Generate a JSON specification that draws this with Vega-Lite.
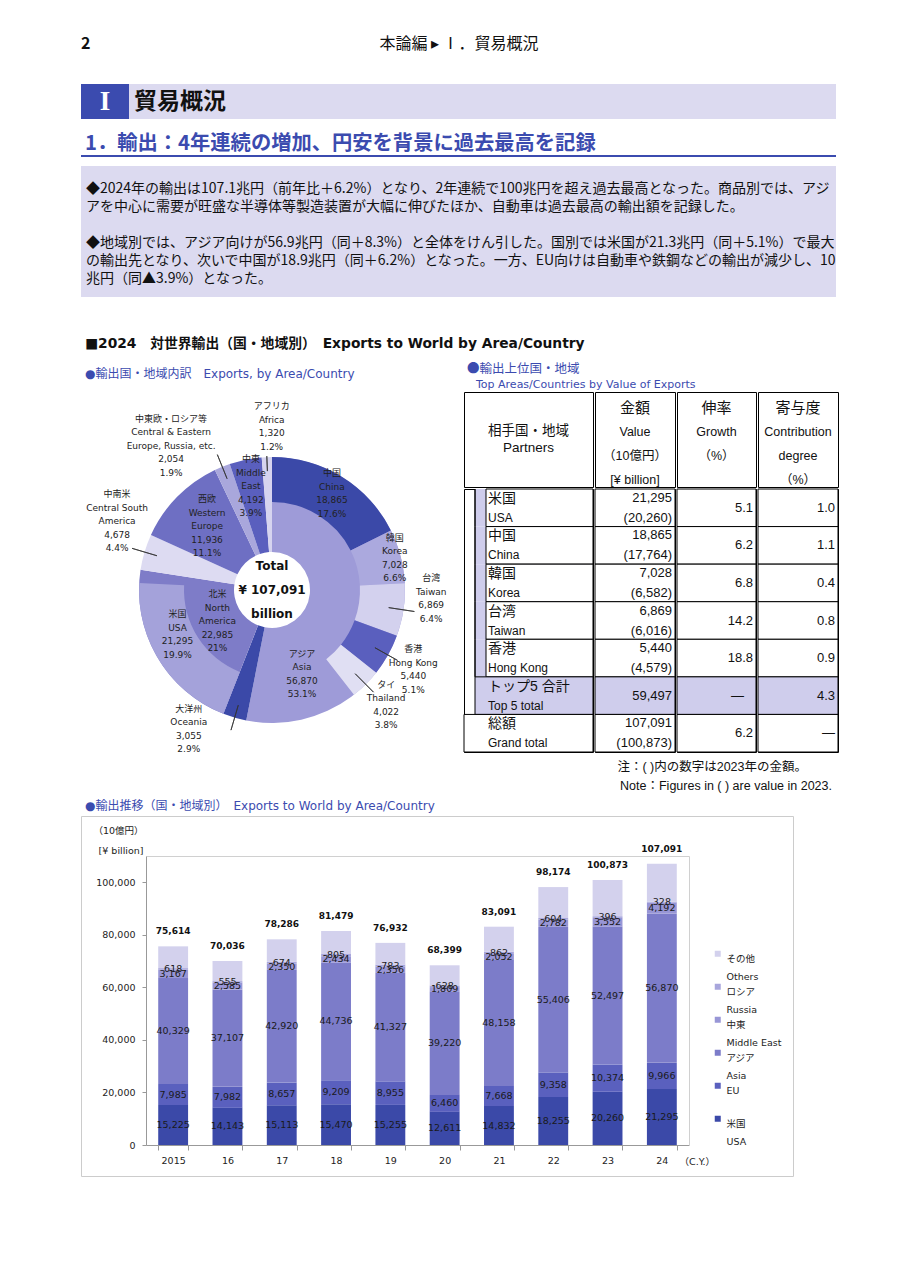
{
"$schema": "https://vega.github.io/schema/vega-lite/v6.json",
"background": "white",
"padding": 0,
"spacing": 0,
"config": {
  "view": {"stroke": null},
  "style": {"guide-label": {"lineHeight": 18}}
},
"datasets": {
  "regions": [
    {"k": "Asia", "ja": "アジア", "en": "Asia", "v": 56870, "p": "53.1%", "o": 1},
    {"k": "Oceania", "ja": "大洋州", "en": "Oceania", "v": 3055, "p": "2.9%", "o": 2},
    {"k": "NA", "ja": "北米", "en": "North|America", "v": 22985, "p": "21%", "o": 3},
    {"k": "CSA", "ja": "中南米", "en": "Central South|America", "v": 4678, "p": "4.4%", "o": 4},
    {"k": "WE", "ja": "西欧", "en": "Western|Europe", "v": 11936, "p": "11.1%", "o": 5},
    {"k": "CEE", "ja": "中東欧・ロシア等", "en": "Central & Eastern|Europe, Russia, etc.", "v": 2054, "p": "1.9%", "o": 6},
    {"k": "ME", "ja": "中東", "en": "Middle|East", "v": 4192, "p": "3.9%", "o": 7},
    {"k": "Africa", "ja": "アフリカ", "en": "Africa", "v": 1320, "p": "1.2%", "o": 8}
  ],
  "outer": [
    {"k": "China", "region": "Asia", "ja": "中国", "en": "China", "v": 18865, "p": "17.6%", "o": 1},
    {"k": "Korea", "region": "Asia", "ja": "韓国", "en": "Korea", "v": 7028, "p": "6.6%", "o": 2},
    {"k": "Taiwan", "region": "Asia", "ja": "台湾", "en": "Taiwan", "v": 6869, "p": "6.4%", "o": 3},
    {"k": "HongKong", "region": "Asia", "ja": "香港", "en": "Hong Kong", "v": 5440, "p": "5.1%", "o": 4},
    {"k": "Thailand", "region": "Asia", "ja": "タイ", "en": "Thailand", "v": 4022, "p": "3.8%", "o": 5},
    {"k": "OtherAsia", "region": "Asia", "v": 14646, "o": 6},
    {"k": "Oceania", "region": "Oceania", "v": 3055, "o": 7},
    {"k": "USA", "region": "NA", "ja": "米国", "en": "USA", "v": 21295, "p": "19.9%", "o": 8},
    {"k": "OtherNA", "region": "NA", "v": 1690, "o": 9},
    {"k": "CSA", "region": "CSA", "v": 4678, "o": 10},
    {"k": "WE", "region": "WE", "v": 11936, "o": 11},
    {"k": "CEE", "region": "CEE", "v": 2054, "o": 12},
    {"k": "ME", "region": "ME", "v": 4192, "o": 13},
    {"k": "Africa", "region": "Africa", "v": 1320, "o": 14}
  ],
  "tbl": [
    {"k": "USA", "ja": "米国", "en": "USA", "lv": 2, "v": 21295, "pv": 20260, "g": 5.1, "c": 1.0},
    {"k": "China", "ja": "中国", "en": "China", "lv": 2, "v": 18865, "pv": 17764, "g": 6.2, "c": 1.1},
    {"k": "Korea", "ja": "韓国", "en": "Korea", "lv": 2, "v": 7028, "pv": 6582, "g": 6.8, "c": 0.4},
    {"k": "Taiwan", "ja": "台湾", "en": "Taiwan", "lv": 2, "v": 6869, "pv": 6016, "g": 14.2, "c": 0.8},
    {"k": "HongKong", "ja": "香港", "en": "Hong Kong", "lv": 2, "v": 5440, "pv": 4579, "g": 18.8, "c": 0.9},
    {"k": "Top5", "ja": "トップ5 合計", "en": "Top 5 total", "lv": 1, "v": 59497, "pv": null, "g": null, "c": 4.3},
    {"k": "Grand", "ja": "総額", "en": "Grand total", "lv": 0, "v": 107091, "pv": 100873, "g": 6.2, "c": null}
  ],
  "bars": [
    {"yr": "2015", "area": "USA", "o": 1, "v": 15225}, {"yr": "2015", "area": "EU", "o": 2, "v": 7985}, {"yr": "2015", "area": "Asia", "o": 3, "v": 40329}, {"yr": "2015", "area": "Middle East", "o": 4, "v": 3167}, {"yr": "2015", "area": "Russia", "o": 5, "v": 618}, {"yr": "2015", "area": "Others", "o": 6, "v": 8290},
    {"yr": "16", "area": "USA", "o": 1, "v": 14143}, {"yr": "16", "area": "EU", "o": 2, "v": 7982}, {"yr": "16", "area": "Asia", "o": 3, "v": 37107}, {"yr": "16", "area": "Middle East", "o": 4, "v": 2585}, {"yr": "16", "area": "Russia", "o": 5, "v": 555}, {"yr": "16", "area": "Others", "o": 6, "v": 7664},
    {"yr": "17", "area": "USA", "o": 1, "v": 15113}, {"yr": "17", "area": "EU", "o": 2, "v": 8657}, {"yr": "17", "area": "Asia", "o": 3, "v": 42920}, {"yr": "17", "area": "Middle East", "o": 4, "v": 2350}, {"yr": "17", "area": "Russia", "o": 5, "v": 674}, {"yr": "17", "area": "Others", "o": 6, "v": 8572},
    {"yr": "18", "area": "USA", "o": 1, "v": 15470}, {"yr": "18", "area": "EU", "o": 2, "v": 9209}, {"yr": "18", "area": "Asia", "o": 3, "v": 44736}, {"yr": "18", "area": "Middle East", "o": 4, "v": 2434}, {"yr": "18", "area": "Russia", "o": 5, "v": 805}, {"yr": "18", "area": "Others", "o": 6, "v": 8825},
    {"yr": "19", "area": "USA", "o": 1, "v": 15255}, {"yr": "19", "area": "EU", "o": 2, "v": 8955}, {"yr": "19", "area": "Asia", "o": 3, "v": 41327}, {"yr": "19", "area": "Middle East", "o": 4, "v": 2356}, {"yr": "19", "area": "Russia", "o": 5, "v": 783}, {"yr": "19", "area": "Others", "o": 6, "v": 8256},
    {"yr": "20", "area": "USA", "o": 1, "v": 12611}, {"yr": "20", "area": "EU", "o": 2, "v": 6460}, {"yr": "20", "area": "Asia", "o": 3, "v": 39220}, {"yr": "20", "area": "Middle East", "o": 4, "v": 1809}, {"yr": "20", "area": "Russia", "o": 5, "v": 628}, {"yr": "20", "area": "Others", "o": 6, "v": 7671},
    {"yr": "21", "area": "USA", "o": 1, "v": 14832}, {"yr": "21", "area": "EU", "o": 2, "v": 7668}, {"yr": "21", "area": "Asia", "o": 3, "v": 48158}, {"yr": "21", "area": "Middle East", "o": 4, "v": 2052}, {"yr": "21", "area": "Russia", "o": 5, "v": 862}, {"yr": "21", "area": "Others", "o": 6, "v": 9519},
    {"yr": "22", "area": "USA", "o": 1, "v": 18255}, {"yr": "22", "area": "EU", "o": 2, "v": 9358}, {"yr": "22", "area": "Asia", "o": 3, "v": 55406}, {"yr": "22", "area": "Middle East", "o": 4, "v": 2782}, {"yr": "22", "area": "Russia", "o": 5, "v": 604}, {"yr": "22", "area": "Others", "o": 6, "v": 11769},
    {"yr": "23", "area": "USA", "o": 1, "v": 20260}, {"yr": "23", "area": "EU", "o": 2, "v": 10374}, {"yr": "23", "area": "Asia", "o": 3, "v": 52497}, {"yr": "23", "area": "Middle East", "o": 4, "v": 3552}, {"yr": "23", "area": "Russia", "o": 5, "v": 396}, {"yr": "23", "area": "Others", "o": 6, "v": 13794},
    {"yr": "24", "area": "USA", "o": 1, "v": 21295}, {"yr": "24", "area": "EU", "o": 2, "v": 9966}, {"yr": "24", "area": "Asia", "o": 3, "v": 56870}, {"yr": "24", "area": "Middle East", "o": 4, "v": 4192}, {"yr": "24", "area": "Russia", "o": 5, "v": 328}, {"yr": "24", "area": "Others", "o": 6, "v": 14440}
  ],
  "totals": [
    {"yr": "2015", "total": 75614}, {"yr": "16", "total": 70036}, {"yr": "17", "total": 78286}, {"yr": "18", "total": 81479}, {"yr": "19", "total": 76932},
    {"yr": "20", "total": 68399}, {"yr": "21", "total": 83091}, {"yr": "22", "total": 98174}, {"yr": "23", "total": 100873}, {"yr": "24", "total": 107091}
  ]
},
"hconcat": [
  {"width": 80, "height": 10, "data": {"values": []}, "mark": {"type": "point"}},
  {"spacing": 0, "vconcat": [
    {"width": 755, "height": 84, "layer": [
      {"data": {"values": [{"t": "2"}]}, "mark": {"type": "text", "x": 0, "y": 44, "align": "left", "baseline": "middle", "fontSize": 16, "fontWeight": "bold", "font": "Noto Sans CJK JP", "color": "#111"}, "encoding": {"text": {"field": "t"}}},
      {"data": {"values": [{"t": "本論編 ▸ Ⅰ．貿易概況"}]}, "mark": {"type": "text", "x": 378, "y": 44, "align": "center", "baseline": "middle", "fontSize": 16, "font": "Noto Sans CJK JP", "color": "#111"}, "encoding": {"text": {"field": "t"}}}
    ]},
    {"spacing": 0, "hconcat": [
      {"width": 48, "height": 35, "view": {"fill": "#3B4BAF", "stroke": null}, "data": {"values": [{"t": "I"}]}, "mark": {"type": "text", "baseline": "middle", "fontSize": 27, "fontWeight": "bold", "font": "Liberation Serif, DejaVu Serif", "color": "white"}, "encoding": {"text": {"field": "t"}}},
      {"width": 707, "height": 35, "view": {"fill": "#DCDAF0", "stroke": null}, "data": {"values": [{"t": "貿易概況"}]}, "mark": {"type": "text", "x": 5, "align": "left", "baseline": "middle", "fontSize": 23, "fontWeight": "bold", "font": "Noto Sans CJK JP", "color": "#111"}, "encoding": {"text": {"field": "t"}}}
    ]},
    {"width": 755, "height": 35, "data": {"values": [{"t": "1．輸出：4年連続の増加、円安を背景に過去最高を記録"}]}, "mark": {"type": "text", "x": 4, "y": 25, "align": "left", "baseline": "middle", "fontSize": 20.3, "fontWeight": "bold", "font": "Noto Sans CJK JP", "color": "#3B4BAF"}, "encoding": {"text": {"field": "t"}}},
    {"width": 755, "height": 2, "view": {"fill": "#3B4BAF", "stroke": null}, "data": {"values": []}, "mark": {"type": "point"}},
    {"width": 755, "height": 9, "data": {"values": []}, "mark": {"type": "point"}},
    {"width": 755, "height": 131, "view": {"fill": "#DCDAF0", "stroke": null}, "layer": [
      {"data": {"values": [{"t": [
        "◆2024年の輸出は107.1兆円（前年比＋6.2%）となり、2年連続で100兆円を超え過去最高となった。商品別では、アジ",
        "アを中心に需要が旺盛な半導体等製造装置が大幅に伸びたほか、自動車は過去最高の輸出額を記録した。"]}]},
       "mark": {"type": "text", "x": 5, "y": 16, "align": "left", "baseline": "top", "lineHeight": 18, "fontSize": 14, "font": "Noto Sans CJK JP", "color": "#111"}, "encoding": {"text": {"field": "t"}}},
      {"data": {"values": [{"t": [
        "◆地域別では、アジア向けが56.9兆円（同＋8.3%）と全体をけん引した。国別では米国が21.3兆円（同＋5.1%）で最大",
        "の輸出先となり、次いで中国が18.9兆円（同＋6.2%）となった。一方、EU向けは自動車や鉄鋼などの輸出が減少し、10",
        "兆円（同▲3.9%）となった。"]}]},
       "mark": {"type": "text", "x": 5, "y": 70, "align": "left", "baseline": "top", "lineHeight": 18, "fontSize": 14, "font": "Noto Sans CJK JP", "color": "#111"}, "encoding": {"text": {"field": "t"}}}
    ]},
    {"width": 755, "height": 64, "data": {"values": [{"t": "■2024　対世界輸出（国・地域別）　Exports to World by Area/Country"}]}, "mark": {"type": "text", "x": 4, "y": 47, "align": "left", "baseline": "middle", "fontSize": 13.8, "fontWeight": "bold", "font": "DejaVu Sans, Noto Sans CJK JP", "color": "#111"}, "encoding": {"text": {"field": "t"}}},
    {"spacing": 0, "hconcat": [
      {"spacing": 0, "vconcat": [
        {"width": 381, "height": 20, "data": {"values": [{"t": "●輸出国・地域内訳　Exports, by Area/Country"}]}, "mark": {"type": "text", "x": 4, "y": 13, "align": "left", "baseline": "middle", "fontSize": 12, "font": "DejaVu Sans, Noto Sans CJK JP", "color": "#3B4BAF"}, "encoding": {"text": {"field": "t"}}},
        {"width": 382, "height": 418,
         "resolve": {"scale": {"color": "independent"}},
         "layer": [
          {"data": {"name": "regions"},
           "transform": [
             {"stack": "v", "groupby": [], "sort": [{"field": "o", "order": "ascending"}], "as": ["t0", "t1"]},
             {"calculate": "(datum.t0 + datum.t1) / 2", "as": "tm"},
             {"calculate": "split(datum.ja + '|' + datum.en + '|' + format(datum.v, ',') + '|' + datum.p, '|')", "as": "lab"}
           ],
           "layer": [
             {"mark": {"type": "arc", "outerRadius": 133, "innerRadius": 38}, "encoding": {
               "theta": {"field": "v", "type": "quantitative", "stack": true, "scale": {"domain": [0, 107090]}},
               "order": {"field": "o", "type": "quantitative"},
               "color": {"field": "k", "type": "nominal", "legend": null, "scale": {"domain": ["Asia", "Oceania", "NA", "CSA", "WE", "CEE", "ME", "Africa"], "range": ["#9E9BD8", "#3B49A8", "#7E7CC8", "#DDDBF2", "#6E6FC3", "#A9A7DC", "#5A5FBE", "#D6D4EF"]}}}},
             {"transform": [{"filter": {"field": "k", "oneOf": ["CSA", "CEE", "Oceania"]}}], "mark": {"type": "arc", "innerRadius": 120, "outerRadius": 146, "fill": "transparent", "stroke": "#333", "strokeWidth": 0.8}, "encoding": {
               "theta": {"field": "tm", "type": "quantitative", "stack": false, "scale": {"domain": [0, 107090]}}, "theta2": {"field": "tm"}}},
             {"transform": [{"filter": "datum.k == 'Africa'"}], "mark": {"type": "arc", "innerRadius": 119, "outerRadius": 134, "fill": "transparent", "stroke": "#333", "strokeWidth": 0.8}, "encoding": {
               "theta": {"field": "tm", "type": "quantitative", "stack": false, "scale": {"domain": [0, 107090]}}, "theta2": {"field": "tm"}}},
             {"transform": [{"filter": "datum.k == 'NA'"}], "mark": {"type": "text", "radius": 63, "dy": -27, "font": "DejaVu Sans, Noto Sans CJK JP", "fontSize": 9, "lineHeight": 13.5, "baseline": "middle", "align": "center", "color": "#222"}, "encoding": {"theta": {"field": "tm", "type": "quantitative", "stack": false, "scale": {"domain": [0, 107090]}}, "text": {"field": "lab"}}},
             {"transform": [{"filter": "datum.k == 'WE'"}], "mark": {"type": "text", "radius": 91, "dy": -27, "font": "DejaVu Sans, Noto Sans CJK JP", "fontSize": 9, "lineHeight": 13.5, "baseline": "middle", "align": "center", "color": "#222"}, "encoding": {"theta": {"field": "tm", "type": "quantitative", "stack": false, "scale": {"domain": [0, 107090]}}, "text": {"field": "lab"}}},
             {"transform": [{"filter": "datum.k == 'ME'"}], "mark": {"type": "text", "radius": 106, "dy": -27, "font": "DejaVu Sans, Noto Sans CJK JP", "fontSize": 9, "lineHeight": 13.5, "baseline": "middle", "align": "center", "color": "#222"}, "encoding": {"theta": {"field": "tm", "type": "quantitative", "stack": false, "scale": {"domain": [0, 107090]}}, "text": {"field": "lab"}}},
             {"transform": [{"filter": "datum.k == 'CSA'"}], "mark": {"type": "text", "radius": 170, "dx": 8, "dy": -47, "font": "DejaVu Sans, Noto Sans CJK JP", "fontSize": 9, "lineHeight": 13.5, "baseline": "middle", "align": "center", "color": "#222"}, "encoding": {"theta": {"field": "tm", "type": "quantitative", "stack": false, "scale": {"domain": [0, 107090]}}, "text": {"field": "lab"}}},
             {"transform": [{"filter": "datum.k == 'CEE'"}], "mark": {"type": "text", "radius": 176, "dx": -35, "dy": -8, "font": "DejaVu Sans, Noto Sans CJK JP", "fontSize": 9, "lineHeight": 13.5, "baseline": "middle", "align": "center", "color": "#222"}, "encoding": {"theta": {"field": "tm", "type": "quantitative", "stack": false, "scale": {"domain": [0, 107090]}}, "text": {"field": "lab"}}},
             {"transform": [{"filter": "datum.k == 'Oceania'"}], "mark": {"type": "text", "radius": 161, "dx": -38, "dy": -36, "font": "DejaVu Sans, Noto Sans CJK JP", "fontSize": 9, "lineHeight": 13.5, "baseline": "middle", "align": "center", "color": "#222"}, "encoding": {"theta": {"field": "tm", "type": "quantitative", "stack": false, "scale": {"domain": [0, 107090]}}, "text": {"field": "lab"}}},
             {"transform": [{"filter": "datum.k == 'Africa'"}], "mark": {"type": "text", "radius": 162, "dx": 6, "dy": -22, "font": "DejaVu Sans, Noto Sans CJK JP", "fontSize": 9, "lineHeight": 13.5, "baseline": "middle", "align": "center", "color": "#222"}, "encoding": {"theta": {"field": "tm", "type": "quantitative", "stack": false, "scale": {"domain": [0, 107090]}}, "text": {"field": "lab"}}}
           ]},
          {"data": {"name": "outer"},
           "transform": [
             {"stack": "v", "groupby": [], "sort": [{"field": "o", "order": "ascending"}], "as": ["t0", "t1"]},
             {"calculate": "(datum.t0 + datum.t1) / 2", "as": "tm"},
             {"calculate": "split(datum.ja + '|' + datum.en + '|' + format(datum.v, ',') + '|' + datum.p, '|')", "as": "lab"}
           ],
           "layer": [
             {"mark": {"type": "arc", "outerRadius": 133, "innerRadius": 88}, "encoding": {
               "theta": {"field": "v", "type": "quantitative", "stack": true, "scale": {"domain": [0, 107090]}},
               "order": {"field": "o", "type": "quantitative"},
               "color": {"field": "k", "type": "nominal", "legend": null, "scale": {"domain": ["China", "Korea", "Taiwan", "HongKong", "Thailand", "USA", "OtherAsia", "Oceania", "OtherNA", "CSA", "WE", "CEE", "ME", "Africa"], "range": ["#3B49A8", "#ABA9DE", "#D3D1EE", "#5A5FBE", "#E0DFF3", "#A4A2DA", "transparent", "transparent", "transparent", "transparent", "transparent", "transparent", "transparent", "transparent"]}}}},
             {"transform": [{"filter": {"field": "k", "oneOf": ["Taiwan", "HongKong", "Thailand"]}}], "mark": {"type": "arc", "innerRadius": 118, "outerRadius": 144, "fill": "transparent", "stroke": "#333", "strokeWidth": 0.8}, "encoding": {
               "theta": {"field": "tm", "type": "quantitative", "stack": false, "scale": {"domain": [0, 107090]}}, "theta2": {"field": "tm"}}},
             {"transform": [{"filter": "datum.k == 'China'"}], "mark": {"type": "text", "radius": 114, "dy": -20, "font": "DejaVu Sans, Noto Sans CJK JP", "fontSize": 9, "lineHeight": 13.5, "baseline": "middle", "align": "center", "color": "#222"}, "encoding": {"theta": {"field": "tm", "type": "quantitative", "stack": false, "scale": {"domain": [0, 107090]}}, "text": {"field": "lab"}}},
             {"transform": [{"filter": "datum.k == 'Korea'"}], "mark": {"type": "text", "radius": 127, "dy": -20, "font": "DejaVu Sans, Noto Sans CJK JP", "fontSize": 9, "lineHeight": 13.5, "baseline": "middle", "align": "center", "color": "#222"}, "encoding": {"theta": {"field": "tm", "type": "quantitative", "stack": false, "scale": {"domain": [0, 107090]}}, "text": {"field": "lab"}}},
             {"transform": [{"filter": "datum.k == 'USA'"}], "mark": {"type": "text", "radius": 104, "dx": -7, "dy": -32, "font": "DejaVu Sans, Noto Sans CJK JP", "fontSize": 9, "lineHeight": 13.5, "baseline": "middle", "align": "center", "color": "#222"}, "encoding": {"theta": {"field": "tm", "type": "quantitative", "stack": false, "scale": {"domain": [0, 107090]}}, "text": {"field": "lab"}}},
             {"transform": [{"filter": "datum.k == 'Taiwan'"}], "mark": {"type": "text", "radius": 161, "dy": -36, "font": "DejaVu Sans, Noto Sans CJK JP", "fontSize": 9, "lineHeight": 13.5, "baseline": "middle", "align": "center", "color": "#222"}, "encoding": {"theta": {"field": "tm", "type": "quantitative", "stack": false, "scale": {"domain": [0, 107090]}}, "text": {"field": "lab"}}},
             {"transform": [{"filter": "datum.k == 'HongKong' || datum.k == 'Thailand'"}], "mark": {"type": "text", "radius": 162, "dy": -20, "font": "DejaVu Sans, Noto Sans CJK JP", "fontSize": 9, "lineHeight": 13.5, "baseline": "middle", "align": "center", "color": "#222"}, "encoding": {"theta": {"field": "tm", "type": "quantitative", "stack": false, "scale": {"domain": [0, 107090]}}, "text": {"field": "lab"}}},
             {"transform": [
                {"filter": "datum.k == 'OtherAsia'"},
                {"lookup": "region", "from": {"data": {"name": "regions"}, "key": "k", "fields": ["ja", "en", "v", "p"]}, "as": ["rja", "ren", "rv", "rp"]},
                {"calculate": "split(datum.rja + '|' + datum.ren + '|' + format(datum.rv, ',') + '|' + datum.rp, '|')", "as": "alab"}],
              "mark": {"type": "text", "radius": 86, "dx": 10, "dy": -20, "font": "DejaVu Sans, Noto Sans CJK JP", "fontSize": 9, "lineHeight": 13.5, "baseline": "middle", "align": "center", "color": "#222"}, "encoding": {"theta": {"field": "tm", "type": "quantitative", "stack": false, "scale": {"domain": [0, 107090]}}, "text": {"field": "alab"}}}
           ]},
          {"data": {"values": [{"t": ["Total", "¥ 107,091", "billion"]}]}, "mark": {"type": "text", "baseline": "middle", "align": "center", "dy": -24, "lineHeight": 24, "fontSize": 12, "fontWeight": "bold", "font": "DejaVu Sans", "color": "#111"}, "encoding": {"text": {"field": "t"}}}
         ]}
      ]},
      {"spacing": 0, "vconcat": [
        {"width": 368, "height": 30, "layer": [
          {"data": {"values": [{"t": "●輸出上位国・地域"}]}, "mark": {"type": "text", "x": 3, "y": 8, "align": "left", "baseline": "middle", "fontSize": 12.5, "font": "Noto Sans CJK JP", "color": "#3B4BAF"}, "encoding": {"text": {"field": "t"}}},
          {"data": {"values": [{"t": "Top Areas/Countries by Value of Exports"}]}, "mark": {"type": "text", "x": 12, "y": 24, "align": "left", "baseline": "middle", "fontSize": 11, "font": "DejaVu Sans", "color": "#3B4BAF"}, "encoding": {"text": {"field": "t"}}}
        ]},
        {"spacing": 0, "hconcat": [
          {"width": 129, "height": 95, "view": {"stroke": "#000", "strokeWidth": 1}, "data": {"values": [{"t": ["相手国・地域", "Partners"]}]}, "mark": {"type": "text", "y": 39, "baseline": "middle", "lineHeight": 17, "fontSize": 13.5, "font": "Liberation Sans, Noto Sans CJK JP", "color": "#111"}, "encoding": {"text": {"field": "t"}}},
          {"width": 80, "height": 95, "view": {"stroke": "#000", "strokeWidth": 1}, "layer": [
            {"data": {"values": [{"t": "金額"}]}, "mark": {"type": "text", "y": 16, "baseline": "middle", "fontSize": 15, "font": "Noto Sans CJK JP", "color": "#111"}, "encoding": {"text": {"field": "t"}}},
            {"data": {"values": [{"t": ["Value", "（10億円）", "[¥ billion]"]}]}, "mark": {"type": "text", "y": 40, "baseline": "middle", "lineHeight": 24, "fontSize": 12.5, "font": "Liberation Sans, Noto Sans CJK JP", "color": "#111"}, "encoding": {"text": {"field": "t"}}}
          ]},
          {"width": 79, "height": 95, "view": {"stroke": "#000", "strokeWidth": 1}, "layer": [
            {"data": {"values": [{"t": "伸率"}]}, "mark": {"type": "text", "y": 16, "baseline": "middle", "fontSize": 15, "font": "Noto Sans CJK JP", "color": "#111"}, "encoding": {"text": {"field": "t"}}},
            {"data": {"values": [{"t": ["Growth", "（%）"]}]}, "mark": {"type": "text", "y": 40, "baseline": "middle", "lineHeight": 24, "fontSize": 12.5, "font": "Liberation Sans, Noto Sans CJK JP", "color": "#111"}, "encoding": {"text": {"field": "t"}}}
          ]},
          {"width": 80, "height": 95, "view": {"stroke": "#000", "strokeWidth": 1}, "layer": [
            {"data": {"values": [{"t": "寄与度"}]}, "mark": {"type": "text", "y": 16, "baseline": "middle", "fontSize": 15, "font": "Noto Sans CJK JP", "color": "#111"}, "encoding": {"text": {"field": "t"}}},
            {"data": {"values": [{"t": ["Contribution", "degree", "（%）"]}]}, "mark": {"type": "text", "y": 40, "baseline": "middle", "lineHeight": 24, "fontSize": 12.5, "font": "Liberation Sans, Noto Sans CJK JP", "color": "#111"}, "encoding": {"text": {"field": "t"}}}
          ]}
        ]},
        {"spacing": 0, "hconcat": [
          {"width": 129, "height": 263, "view": {"stroke": "#000", "strokeWidth": 1}, "data": {"name": "tbl"},
           "encoding": {"y": {"field": "k", "type": "nominal", "sort": null, "scale": {"domain": ["USA", "China", "Korea", "Taiwan", "HongKong", "Top5", "Grand"], "paddingInner": 0, "paddingOuter": 0}, "axis": null}},
           "layer": [
             {"transform": [{"filter": "datum.lv >= 1"}], "mark": {"type": "rect", "color": "#CFCDEC", "x2": "width"}, "encoding": {"x": {"datum": 1, "type": "quantitative", "scale": {"domain": [0, 2], "range": [0, 22]}, "axis": null}}},
             {"mark": {"type": "rect", "x2": "width", "stroke": "#000", "strokeWidth": 1}, "encoding": {"x": {"field": "lv", "type": "quantitative", "scale": {"domain": [0, 2], "range": [0, 22]}, "axis": null}, "color": {"condition": {"test": "datum.lv == 1", "value": "#CFCDEC"}, "value": "white"}}},
             {"transform": [{"filter": "datum.lv == 2"}], "mark": {"type": "rect", "fill": "transparent", "stroke": "#000", "strokeWidth": 1}, "encoding": {"x": {"datum": 1, "type": "quantitative", "scale": {"domain": [0, 2], "range": [0, 22]}, "axis": null}, "x2": {"datum": 1}}},
             {"mark": {"type": "text", "align": "left", "baseline": "middle", "dx": 2, "dy": -9, "fontSize": 14, "font": "Liberation Sans, Noto Sans CJK JP", "color": "#111"}, "encoding": {"x": {"datum": 2, "type": "quantitative", "scale": {"domain": [0, 2], "range": [0, 22]}, "axis": null}, "text": {"field": "ja"}}},
             {"mark": {"type": "text", "align": "left", "baseline": "middle", "dx": 2, "dy": 10, "fontSize": 12, "font": "Liberation Sans, Noto Sans CJK JP", "color": "#111"}, "encoding": {"x": {"datum": 2, "type": "quantitative", "scale": {"domain": [0, 2], "range": [0, 22]}, "axis": null}, "text": {"field": "en"}}}
           ]},
          {"width": 80, "height": 263, "view": {"stroke": "#000", "strokeWidth": 1}, "data": {"name": "tbl"},
           "transform": [{"calculate": "datum.pv != null ? [format(datum.v, ','), '(' + format(datum.pv, ',') + ')'] : format(datum.v, ',')", "as": "vt"}],
           "encoding": {"y": {"field": "k", "type": "nominal", "sort": null, "scale": {"domain": ["USA", "China", "Korea", "Taiwan", "HongKong", "Top5", "Grand"], "paddingInner": 0, "paddingOuter": 0}, "axis": null}},
           "layer": [
             {"mark": {"type": "rect", "x": 0, "x2": "width", "stroke": "#000", "strokeWidth": 1}, "encoding": {"color": {"condition": {"test": "datum.lv == 1", "value": "#CFCDEC"}, "value": "white"}}},
             {"transform": [{"filter": "datum.pv != null"}], "mark": {"type": "text", "x": "width", "dx": -3, "dy": -10, "align": "right", "baseline": "middle", "lineHeight": 20, "fontSize": 13, "font": "Liberation Sans, Noto Sans CJK JP", "color": "#111"}, "encoding": {"text": {"field": "vt"}}},
             {"transform": [{"filter": "datum.pv == null"}], "mark": {"type": "text", "x": "width", "dx": -3, "align": "right", "baseline": "middle", "fontSize": 13, "font": "Liberation Sans, Noto Sans CJK JP", "color": "#111"}, "encoding": {"text": {"field": "vt"}}}
           ]},
          {"width": 79, "height": 263, "view": {"stroke": "#000", "strokeWidth": 1}, "data": {"name": "tbl"},
           "transform": [{"calculate": "datum.g == null ? '—' : format(datum.g, '.1f')", "as": "gt"}],
           "encoding": {"y": {"field": "k", "type": "nominal", "sort": null, "scale": {"domain": ["USA", "China", "Korea", "Taiwan", "HongKong", "Top5", "Grand"], "paddingInner": 0, "paddingOuter": 0}, "axis": null}},
           "layer": [
             {"mark": {"type": "rect", "x": 0, "x2": "width", "stroke": "#000", "strokeWidth": 1}, "encoding": {"color": {"condition": {"test": "datum.lv == 1", "value": "#CFCDEC"}, "value": "white"}}},
             {"transform": [{"filter": "datum.g != null"}], "mark": {"type": "text", "x": "width", "dx": -3, "align": "right", "baseline": "middle", "fontSize": 13, "font": "Liberation Sans, Noto Sans CJK JP", "color": "#111"}, "encoding": {"text": {"field": "gt"}}},
             {"transform": [{"filter": "datum.g == null"}], "mark": {"type": "text", "x": "width", "dx": -12, "align": "right", "baseline": "middle", "fontSize": 13, "font": "Liberation Sans, Noto Sans CJK JP", "color": "#111"}, "encoding": {"text": {"field": "gt"}}}
           ]},
          {"width": 80, "height": 263, "view": {"stroke": "#000", "strokeWidth": 1}, "data": {"name": "tbl"},
           "transform": [{"calculate": "datum.c == null ? '—' : format(datum.c, '.1f')", "as": "ct"}],
           "encoding": {"y": {"field": "k", "type": "nominal", "sort": null, "scale": {"domain": ["USA", "China", "Korea", "Taiwan", "HongKong", "Top5", "Grand"], "paddingInner": 0, "paddingOuter": 0}, "axis": null}},
           "layer": [
             {"mark": {"type": "rect", "x": 0, "x2": "width", "stroke": "#000", "strokeWidth": 1}, "encoding": {"color": {"condition": {"test": "datum.lv == 1", "value": "#CFCDEC"}, "value": "white"}}},
             {"mark": {"type": "text", "x": "width", "dx": -3, "align": "right", "baseline": "middle", "fontSize": 13, "font": "Liberation Sans, Noto Sans CJK JP", "color": "#111"}, "encoding": {"text": {"field": "ct"}}}
           ]}
        ]},
        {"width": 368, "height": 45, "layer": [
          {"data": {"values": [{"t": "注：( )内の数字は2023年の金額。"}]}, "mark": {"type": "text", "x": 343, "y": 14, "align": "right", "baseline": "middle", "fontSize": 12.5, "font": "Liberation Sans, Noto Sans CJK JP", "color": "#111"}, "encoding": {"text": {"field": "t"}}},
          {"data": {"values": [{"t": "Note：Figures in ( ) are value in 2023."}]}, "mark": {"type": "text", "x": 368, "y": 33, "align": "right", "baseline": "middle", "fontSize": 12.5, "font": "Liberation Sans, Noto Sans CJK JP", "color": "#111"}, "encoding": {"text": {"field": "t"}}}
        ]}
      ]}
    ]},
    {"width": 712, "height": 16, "data": {"values": [{"t": "●輸出推移（国・地域別）　Exports to World by Area/Country"}]}, "mark": {"type": "text", "x": 4, "y": 7, "align": "left", "baseline": "middle", "fontSize": 12, "font": "DejaVu Sans, Noto Sans CJK JP", "color": "#3B4BAF"}, "encoding": {"text": {"field": "t"}}},
    {"width": 712, "height": 360, "view": {"stroke": "#CCCCCC", "strokeWidth": 1},
     "resolve": {"axis": {"x": "independent", "y": "independent"}},
     "layer": [
       {"data": {"name": "bars"}, "mark": {"type": "bar"}, "encoding": {
          "x": {"field": "yr", "type": "ordinal", "sort": null, "scale": {"domain": ["2015", "16", "17", "18", "19", "20", "21", "22", "23", "24"], "range": [65, 608], "paddingInner": 0.45, "paddingOuter": 0.225},
                "axis": {"orient": "bottom", "offset": -31, "title": "（C.Y.）", "titleX": 598, "titleY": 16, "titleAlign": "left", "titleBaseline": "middle", "titleFontSize": 9.5, "titleFontWeight": "normal", "titleFont": "DejaVu Sans, Noto Sans CJK JP", "titleColor": "#222", "labelAngle": 0, "labelFont": "DejaVu Sans", "labelFontSize": 9.5, "labelColor": "#222", "labelPadding": 5, "tickBand": "extent", "tickSize": 5, "tickColor": "#999", "domainColor": "#999"}},
          "y": {"field": "v", "type": "quantitative", "stack": "zero", "scale": {"domain": [0, 110000], "range": [329, 40], "nice": false},
                "axis": {"orient": "left", "offset": -65, "values": [0, 20000, 40000, 60000, 80000, 100000], "labelExpr": "format(datum.value, ',')", "grid": false, "labelFont": "DejaVu Sans", "labelFontSize": 9.5, "labelColor": "#222", "tickSize": 4, "tickColor": "#999", "domainColor": "#999", "labelPadding": 7,
                         "title": ["（10億円）", "[¥ billion]"], "titleAngle": 0, "titleAlign": "right", "titleBaseline": "middle", "titleX": -3, "titleY": 14, "titleFontSize": 9.5, "titleFontWeight": "normal", "titleFont": "DejaVu Sans, Noto Sans CJK JP", "titleColor": "#222", "titleLineHeight": 20}},
          "color": {"field": "area", "type": "nominal", "scale": {"domain": ["Others", "Russia", "Middle East", "Asia", "EU", "USA"], "range": ["#D3D1ED", "#A8A6DC", "#9896D6", "#7C7CC9", "#5A60BE", "#3B49A8"]},
                    "legend": {"orient": "none", "legendX": 713, "legendY": 949, "title": null, "symbolType": "square", "symbolSize": 36, "symbolStrokeWidth": 0, "labelFont": "DejaVu Sans, Noto Sans CJK JP", "labelFontSize": 9.5, "labelColor": "#222", "labelOffset": 4, "labelBaseline": "top", "rowPadding": 0,
                               "labelExpr": "datum.label == 'Others' ? ['その他', 'Others'] : datum.label == 'Russia' ? ['ロシア', 'Russia'] : datum.label == 'Middle East' ? ['中東', 'Middle East'] : datum.label == 'Asia' ? ['アジア', 'Asia'] : datum.label == 'EU' ? ['EU', ' '] : ['米国', 'USA']"}},
          "order": {"field": "o", "type": "quantitative"}
       }},
       {"data": {"name": "bars"},
        "transform": [
          {"stack": "v", "groupby": ["yr"], "sort": [{"field": "o", "order": "ascending"}], "as": ["v0", "v1"]},
          {"calculate": "(datum.v0 + datum.v1) / 2", "as": "mid"},
          {"filter": "datum.area != 'Others'"}
        ],
        "mark": {"type": "text", "baseline": "middle", "align": "center", "fontSize": 9.5, "font": "DejaVu Sans", "color": "#1a1a1a"},
        "encoding": {
          "x": {"field": "yr", "type": "ordinal", "sort": null, "axis": null},
          "y": {"field": "mid", "type": "quantitative", "axis": null},
          "text": {"field": "v", "type": "quantitative", "format": ","}
        }},
       {"data": {"name": "totals"},
        "mark": {"type": "text", "baseline": "middle", "align": "center", "dy": -15, "fontSize": 9, "fontWeight": "bold", "font": "DejaVu Sans", "color": "#111"},
        "encoding": {
          "x": {"field": "yr", "type": "ordinal", "sort": null, "axis": {"orient": "top", "offset": -40, "labels": false, "ticks": false, "title": null, "domainColor": "#D0D0D0"}},
          "y": {"field": "total", "type": "quantitative", "axis": {"orient": "right", "offset": -104, "labels": false, "ticks": false, "title": null, "grid": false, "domainColor": "#D0D0D0"}},
          "text": {"field": "total", "type": "quantitative", "format": ","}
        }}
     ]}
  ]}
]
}
